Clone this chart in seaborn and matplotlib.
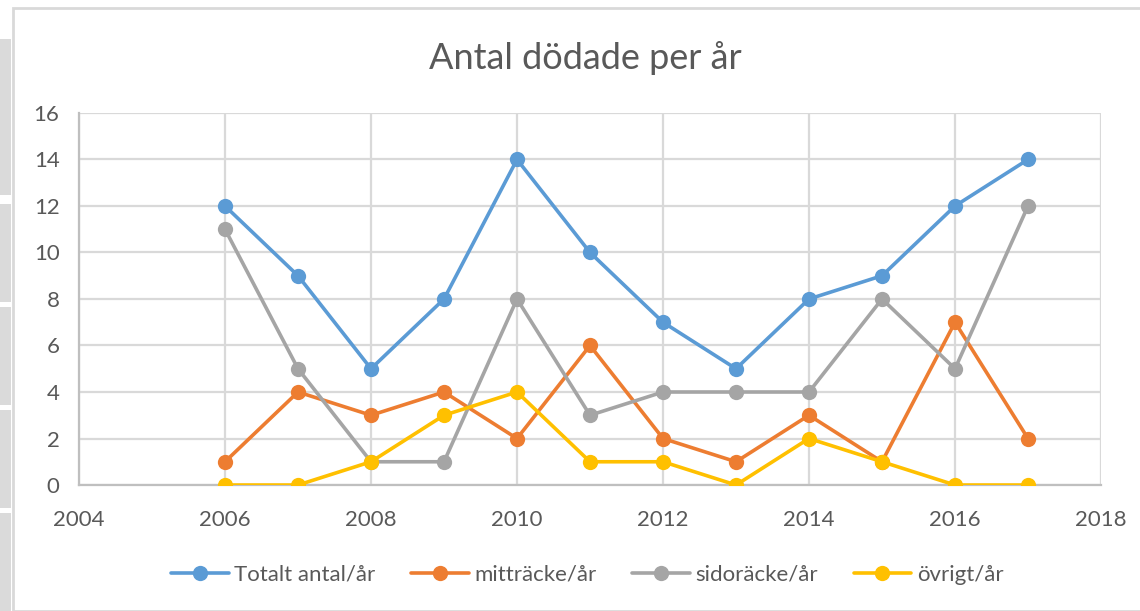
import pandas as pd
import matplotlib
matplotlib.use("Agg")
import matplotlib.pyplot as plt
import seaborn as sns
from matplotlib.patches import Rectangle
from matplotlib.lines import Line2D

# Data läst ur diagrammet
years = [2006, 2007, 2008, 2009, 2010, 2011, 2012, 2013, 2014, 2015, 2016, 2017]
totalt = [12, 9, 5, 8, 14, 10, 7, 5, 8, 9, 12, 14]
mittracke = [1, 4, 3, 4, 2, 6, 2, 1, 3, 1, 7, 2]
sidoracke = [11, 5, 1, 1, 8, 3, 4, 4, 4, 8, 5, 12]
ovrigt = [0, 0, 1, 3, 4, 1, 1, 0, 2, 1, 0, 0]

series_names = ['Totalt antal/år', 'mitträcke/år', 'sidoräcke/år', 'övrigt/år']
colors = ['#5B9BD5', '#ED7D31', '#A5A5A5', '#FFC000']

df = pd.DataFrame({'År': years,
                   series_names[0]: totalt,
                   series_names[1]: mittracke,
                   series_names[2]: sidoracke,
                   series_names[3]: ovrigt})
df_long = df.melt(id_vars='År', var_name='Serie', value_name='Antal')

sns.set_style('white')
plt.rcParams['font.family'] = ['Lato', 'DejaVu Sans']

fig = plt.figure(figsize=(11.4, 6.11), dpi=100)
ax = fig.add_axes([0.0693, 0.2062, 0.8965, 0.6089])

sns.lineplot(data=df_long, x='År', y='Antal', hue='Serie', hue_order=series_names,
             palette=colors, marker='o', markersize=11, markeredgewidth=0,
             linewidth=2.6, legend=False, ax=ax, zorder=3)

ax.set_xlim(2004, 2018)
ax.set_ylim(0, 16)
ax.set_xticks(range(2004, 2019, 2))
ax.set_yticks(range(0, 17, 2))
ax.grid(True, color='#D9D9D9', linewidth=1.6)
ax.set_axisbelow(True)
for s in ['top', 'right']:
    ax.spines[s].set_visible(False)
for s in ['left', 'bottom']:
    ax.spines[s].set_color('#BFBFBF')
    ax.spines[s].set_linewidth(1.6)
ax.tick_params(axis='both', length=0, labelsize=16, labelcolor='#595959')
ax.tick_params(axis='x', pad=18)
ax.tick_params(axis='y', pad=14)
ax.set_xlabel('')
ax.set_ylabel('')

fig.text(0.513, 0.905, 'Antal dödade per år', ha='center', va='center',
         fontsize=26, color='#595959')

handles = [Line2D([0], [0], color=c, linewidth=2.6, marker='o', markersize=11,
                  markeredgewidth=0) for c in colors]
fig.legend(handles, series_names, loc='center', bbox_to_anchor=(0.515, 0.059),
           ncol=4, frameon=False, fontsize=16, labelcolor='#595959',
           handlelength=2.6, handletextpad=0.25, columnspacing=1.6)

# Diagramram och gråa fält till vänster (skärmklipp)
fig.patches.append(Rectangle((13 / 1140, 0), 1.2, 1 - 8 / 611, transform=fig.transFigure,
                             fill=False, edgecolor='#D9D9D9', linewidth=2))
for y0, y1 in [(39, 195), (204, 302), (307, 405), (410, 508), (513, 611)]:
    fig.patches.append(Rectangle((0, 1 - y1 / 611), 11 / 1140, (y1 - y0) / 611,
                                 transform=fig.transFigure, facecolor='#DADADA',
                                 edgecolor='none'))

fig.savefig('out.png', dpi=100, facecolor='white')
